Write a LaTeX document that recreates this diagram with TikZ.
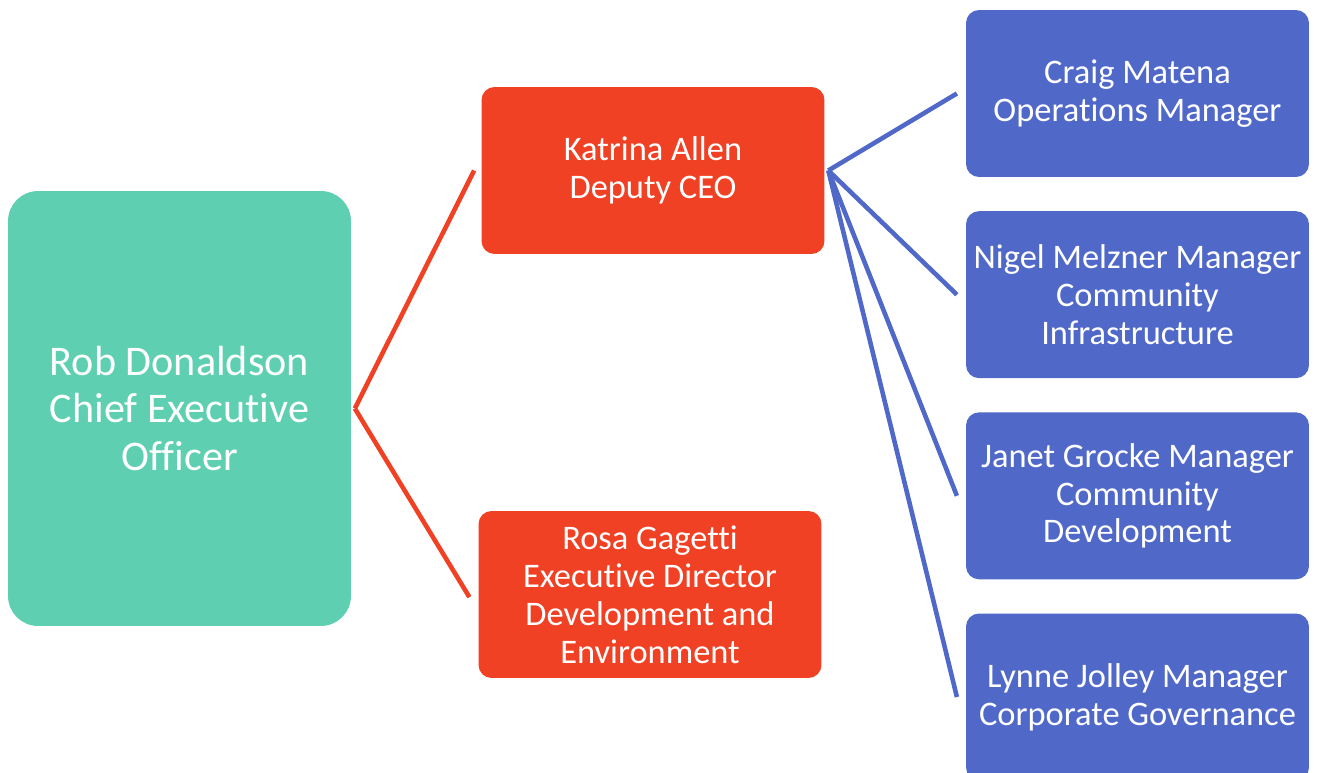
\documentclass[tikz,border=0pt]{standalone}
\usepackage{fontspec}
\setmainfont{Carlito}[Ligatures=NoCommon]
\usetikzlibrary{positioning}
\definecolor{boxgreen}{RGB}{94,207,177}
\definecolor{boxred}{RGB}{240,65,36}
\definecolor{boxblue}{RGB}{80,105,200}

\begin{document}
\begin{tikzpicture}[x=0.02cm, y=-0.02cm, node distance=0.67cm,
box/.style={rectangle, rounded corners=0.26cm, fill=#1, text=white,
minimum width=6.86cm, minimum height=3.34cm, align=center,
font=\fontsize{19.6}{21.6}\selectfont},
link/.style={line width=2.6pt, draw=#1}
]
\useasboundingbox (0,0) rectangle (1319,773);

% CEO
\node[box=boxgreen, rounded corners=0.6cm, minimum width=6.86cm, minimum height=8.7cm,
font=\fontsize{24}{26.8}\selectfont] (ceo) at (179.5,408.5)
{Rob Donaldson\\Chief Executive\\Officer};

% Second level
\node[box=boxred] (katrina) at (653,170.5) {Katrina Allen\\Deputy CEO};
\node[box=boxred] (rosa) at (650,594.5)
{Rosa Gagetti\\Executive Director\\Development and\\Environment};

% Managers
\node[box=boxblue] (craig) at (1137.5,93.5) {Craig Matena\\Operations Manager};
\node[box=boxblue, below=of craig] (nigel)
{Nigel Melzner Manager\\Community\\Infrastructure};
\node[box=boxblue, below=of nigel] (janet)
{Janet Grocke Manager\\Community\\Development};
\node[box=boxblue, below=of janet] (lynne)
{Lynne Jolley Manager\\Corporate Governance};

% Links
\draw[link=boxred] ([xshift=2]ceo.east) -- ([xshift=-4]katrina.west);
\draw[link=boxred] ([xshift=2]ceo.east) -- ([xshift=-5,yshift=-1.5]rosa.west);
\draw[link=boxblue] ([xshift=2]katrina.east) -- ([xshift=-5]craig.west);
\draw[link=boxblue] ([xshift=2]katrina.east) -- ([xshift=-5]nigel.west);
\draw[link=boxblue] ([xshift=2]katrina.east) -- ([xshift=-5]janet.west);
\draw[link=boxblue] ([xshift=2]katrina.east) -- ([xshift=-5]lynne.west);

\end{tikzpicture}
\end{document}
